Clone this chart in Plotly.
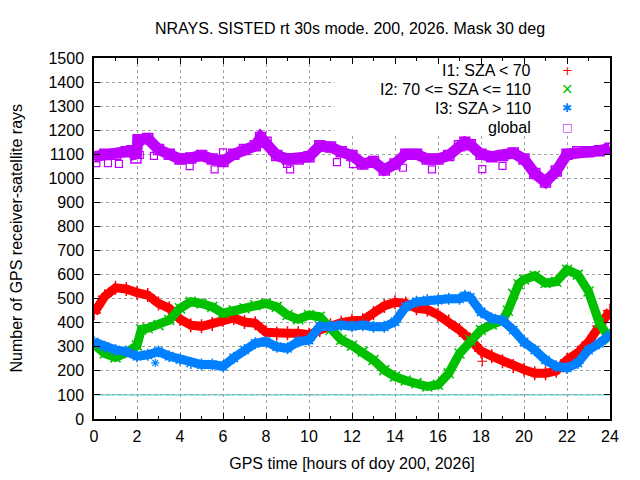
import plotly.graph_objects as go

# ---------------------------------------------------------------------------
#  Datos (horas GPS, numero de rayos)
# ---------------------------------------------------------------------------

hours = [0, 0.5, 1, 1.5, 2, 2.5, 3, 3.5, 4, 4.5, 5, 5.5, 6, 6.5, 7, 7.5, 8,
         8.5, 9, 9.5, 10, 10.5, 11, 11.5, 12, 12.5, 13, 13.5, 14, 14.5, 15,
         15.5, 16, 16.5, 17, 17.5, 18, 18.5, 19, 19.5, 20, 20.5, 21, 21.5,
         22, 22.5, 23, 23.5, 24]

i1_rays = [440, 510, 545, 540, 525, 515, 480, 460, 415, 390, 385, 395, 411,
           420, 403, 398, 360, 355, 356, 356, 350, 370, 390, 400, 408, 410,
           440, 470, 485, 480, 460, 455, 433, 405, 370, 330, 282, 261, 240,
           220, 205, 190, 190, 200, 245, 275, 320, 385, 450]

i2_hours = [0, 0.5, 1, 1.5, 2, 2.2, 2.5, 3, 3.5, 4, 4.5, 5, 5.5, 6, 6.5, 7,
            7.5, 8, 8.5, 9, 9.5, 10, 10.5, 11, 11.5, 12, 12.5, 13, 13.5, 14,
            14.5, 15, 15.5, 16, 16.5, 17, 17.5, 18, 18.5, 19, 19.25, 19.5,
            19.75, 20, 20.5, 21, 21.5, 22, 22.5, 23, 23.5, 24]
i2_rays = [310, 272, 256, 275, 305, 372, 377, 390, 411, 460, 487, 480, 466,
           440, 452, 460, 473, 480, 466, 432, 415, 432, 425, 370, 329, 305,
           280, 245, 203, 176, 160, 149, 135, 142, 190, 272, 328, 370, 393,
           410, 450, 520, 560, 580, 595, 565, 570, 620, 600, 530, 400, 330]

i3_hours = [0, 0.5, 1, 1.5, 2, 2.5, 3, 3.5, 4, 4.5, 5, 5.5, 6, 6.5, 7, 7.5,
            8, 8.5, 9, 9.5, 10, 10.5, 11, 11.5, 12, 12.5, 13, 13.5, 14, 14.5,
            15, 15.5, 16, 16.5, 17, 17.25, 17.5, 18, 18.5, 19, 19.5, 20, 20.5,
            21, 21.5, 22, 22.5, 23, 23.5, 24]
i3_rays = [320, 300, 287, 280, 261, 267, 280, 261, 247, 233, 226, 226, 219,
           254, 287, 315, 322, 300, 294, 322, 328, 384, 384, 390, 385, 390,
           383, 383, 404, 466, 487, 494, 494, 500, 500, 512, 505, 445, 418,
           410, 370, 320, 287, 245, 219, 212, 233, 287, 315, 349]

glob_hours = [0, 0.5, 1, 1.5, 1.75, 1.95, 2.05, 2.5, 3, 3.5, 4, 4.5, 5, 5.5,
              6, 6.5, 7, 7.5, 7.75, 8, 8.5, 9, 9.5, 10, 10.5, 11, 11.5, 12,
              12.5, 13, 13.5, 14, 14.5, 15, 15.5, 16, 16.5, 17, 17.25, 17.5,
              18, 18.5, 19, 19.5, 20, 20.5, 21, 21.5, 22, 22.5, 23, 23.5, 24]
glob_rays = [1090, 1100, 1100, 1110, 1115, 1085, 1160, 1165, 1120, 1100, 1080,
             1085, 1095, 1080, 1070, 1100, 1120, 1135, 1170, 1150, 1095, 1080,
             1080, 1090, 1135, 1130, 1110, 1095, 1060, 1070, 1035, 1060, 1100,
             1100, 1080, 1080, 1095, 1135, 1150, 1140, 1100, 1090, 1095, 1105,
             1080, 1020, 985, 1030, 1100, 1110, 1110, 1115, 1125]

# puntos sueltos
glob_out_hours = [0.11, 0.65, 1.16, 2.13, 2.79, 4.45, 5.61, 6.0, 8.98, 9.12,
                  11.3, 12.05, 14.37, 15.72, 18.06, 19.0]
glob_out_rays = [1063, 1063, 1060, 1097, 1093, 1051, 1037, 1108, 1060, 1037,
                 1067, 1059, 1044, 1037, 1038, 1052]
i1_out_hours = [18.06]
i1_out_rays = [240]
i3_out_hours = [2.85]
i3_out_rays = [233]

ref_level = 100

labels = ["I1: SZA < 70", "I2: 70 <= SZA <= 110", "I3: SZA > 110", "global"]
key_symbols = ["+", "\u00d7", "\u2731", "\u25a1"]
key_sizes = [13, 15, 12, 11]
colors = ["#ff0000", "#00c000", "#0080ff", "#c000ff"]
marker_syms = ["cross-thin-open", "x-thin-open", "asterisk-open", "square-open"]

title = "NRAYS. SISTED rt 30s mode. 200, 2026. Mask 30 deg"
ytitle = "Number of GPS receiver-satellite rays"
xtitle = "GPS time [hours of doy 200, 2026]"

# la pagina se dibuja con 8 px de margen del body
OFF = 8

###############################################################################
#                               Figura                                        #
###############################################################################

fig = go.Figure()

series = [(hours, i1_rays), (i2_hours, i2_rays), (i3_hours, i3_rays),
          (glob_hours, glob_rays)]
widths = [9, 9, 9, 11]

for (xs, ys), col, sym, w in zip(series, colors, marker_syms, widths):
    fig.add_trace(go.Scatter(
        x=xs, y=ys, mode="lines+markers", showlegend=False,
        line=dict(color=col, width=w),
        marker=dict(symbol=sym, size=10, color=col,
                    line=dict(color=col, width=1.5))))

outliers = [(i1_out_hours, i1_out_rays, 0), (i3_out_hours, i3_out_rays, 2),
            (glob_out_hours, glob_out_rays, 3)]
for xs, ys, k in outliers:
    fig.add_trace(go.Scatter(
        x=xs, y=ys, mode="markers", showlegend=False,
        marker=dict(symbol=marker_syms[k], size=7, color=colors[k],
                    line=dict(color=colors[k], width=1.2))))

fig.add_hline(y=ref_level, line=dict(color="#20d0d0", width=1), layer="below")

# caja opaca de la leyenda (tapa la rejilla)
fig.add_shape(type="rect", xref="x", yref="y", x0=11.2, x1=24, y0=1178,
              y1=1500, fillcolor="white", line=dict(width=0), layer="between")

for k, (lab, ks) in enumerate(zip(labels, key_symbols)):
    yy = 1 - (70.7 + 18.8 * k - 58) / 361
    fig.add_annotation(xref="paper", yref="paper", x=(533 - 94) / 516, y=yy,
                       text=lab, showarrow=False, xanchor="right",
                       yanchor="middle", font=dict(size=16, color="black"))
    fig.add_annotation(xref="paper", yref="paper", x=(567 - 94) / 516, y=yy,
                       text=ks, showarrow=False, xanchor="center",
                       yanchor="middle",
                       font=dict(size=key_sizes[k], color=colors[k],
                                 family="DejaVu Sans"))

# titulo del eje y como anotacion (pegado al borde izquierdo)
fig.add_annotation(xref="paper", yref="paper", x=(16 - 94) / 516, y=0.5,
                   text=ytitle, textangle=-90, showarrow=False, borderpad=0,
                   xanchor="center", yanchor="middle",
                   font=dict(size=16, color="black"))

axis_common = dict(showline=True, linecolor="black", linewidth=1.5,
                   mirror="ticks", ticks="inside", tickcolor="black",
                   ticklen=6, tickwidth=1, showgrid=True, gridcolor="#a0a0a0",
                   griddash="3px,3px", gridwidth=1, zeroline=False,
                   automargin=False, tickfont=dict(size=16, color="black"))

fig.update_xaxes(range=[0, 24], dtick=2, tick0=0,
                 minor=dict(dtick=1, ticks="inside", ticklen=3,
                            tickcolor="black", showgrid=False),
                 title=dict(text=xtitle, font=dict(size=16, color="black"),
                            standoff=14),
                 ticklabelstandoff=2, **axis_common)
fig.update_yaxes(range=[0, 1500], dtick=100, tick0=0,
                 ticklabelstandoff=5, **axis_common)

fig.update_layout(
    width=640, height=480,
    margin=dict(l=94 - OFF, r=30 + OFF, t=58 - OFF, b=61 + OFF),
    paper_bgcolor="white", plot_bgcolor="white",
    font=dict(family="Liberation Sans", size=16, color="black"),
    title=dict(text=title, x=(350 - OFF) / 640, xanchor="center",
               y=1 - (28 - OFF) / 480, yanchor="middle",
               font=dict(size=16, color="black")),
    showlegend=False)

fig.write_html("out.html")
